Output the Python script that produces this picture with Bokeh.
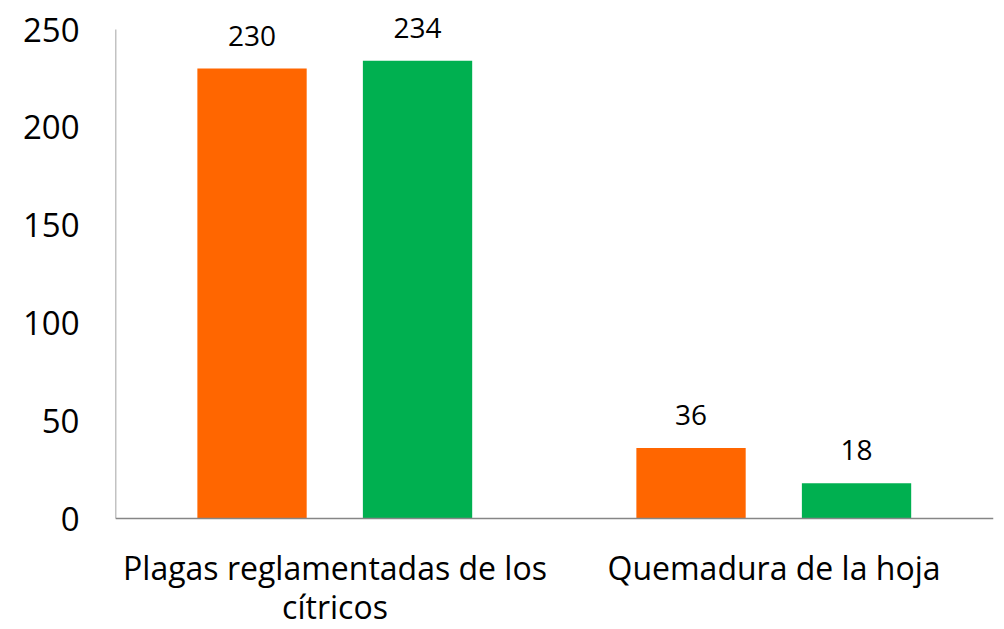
from bokeh.plotting import figure
from bokeh.models import ColumnDataSource, Range1d, FixedTicker, LabelSet, Label
from bokeh.core.properties import value
from bokeh.embed import file_html
from bokeh.resources import INLINE

categories = ["Plagas reglamentadas de los\ncítricos", "Quemadura de la hoja"]
series_a = [230, 36]
series_b = [234, 18]
y_ticks = [0, 50, 100, 150, 200, 250]

FONT = "Open Sans"
centers = [0.5 + i for i in range(len(categories))]

# frame spans the full height so that texts below the axis are not clipped
H = 629
TOP_PX, ZERO_PX = 29, 518
ppu = (ZERO_PX - TOP_PX) / (y_ticks[-1] - y_ticks[0])
y_hi = y_ticks[-1] + TOP_PX / ppu
y_lo = y_ticks[0] - (H - ZERO_PX) / ppu

p = figure(width=1000, height=H, output_backend="svg", toolbar_location=None,
           x_range=Range1d(0, len(categories)), y_range=Range1d(y_lo, y_hi),
           min_border_left=115, min_border_right=7, min_border_top=0, min_border_bottom=0,
           x_axis_location=None)

src_a = ColumnDataSource(dict(x=[c - 0.189 for c in centers], y=series_a, t=[str(v) for v in series_a]))
src_b = ColumnDataSource(dict(x=[c + 0.188 for c in centers], y=series_b, t=[str(v) for v in series_b]))

p.vbar(x="x", top="y", bottom=0, width=0.249, source=src_a, fill_color="#FF6600", line_color=None)
p.vbar(x="x", top="y", bottom=0, width=0.249, source=src_b, fill_color="#00B050", line_color=None)

# axis lines
p.segment(x0=[0, 0], y0=[y_ticks[0], y_ticks[0]], x1=[0, len(categories)], y1=[y_ticks[-1], y_ticks[0]],
          line_color="#868686", line_width=1.5)

for src in (src_a, src_b):
    p.add_layout(LabelSet(x="x", y="y", text="t", source=src, y_offset=23,
                          text_align="center", text_baseline="alphabetic",
                          text_font=value(FONT), text_font_size="28px", text_color="#000000"))

# category labels below the axis
for c, lab in zip(centers, categories):
    for i, line in enumerate(lab.split("\n")):
        p.add_layout(Label(x=c, y=0, y_offset=-49 - 39 * i, text=line,
                           text_align="center", text_baseline="alphabetic",
                           text_font=FONT, text_font_size="32px", text_color="#000000"))

p.yaxis.ticker = FixedTicker(ticks=y_ticks)
p.yaxis.axis_line_color = None
p.yaxis.major_tick_line_color = None
p.yaxis.minor_tick_line_color = None
p.yaxis.major_label_text_font = FONT
p.yaxis.major_label_text_font_size = "33px"
p.yaxis.major_label_text_color = "#000000"
p.yaxis.major_label_standoff = 30

p.xgrid.grid_line_color = None
p.ygrid.grid_line_color = None
p.outline_line_color = None

open("out.html", "w").write(file_html(p, INLINE))
